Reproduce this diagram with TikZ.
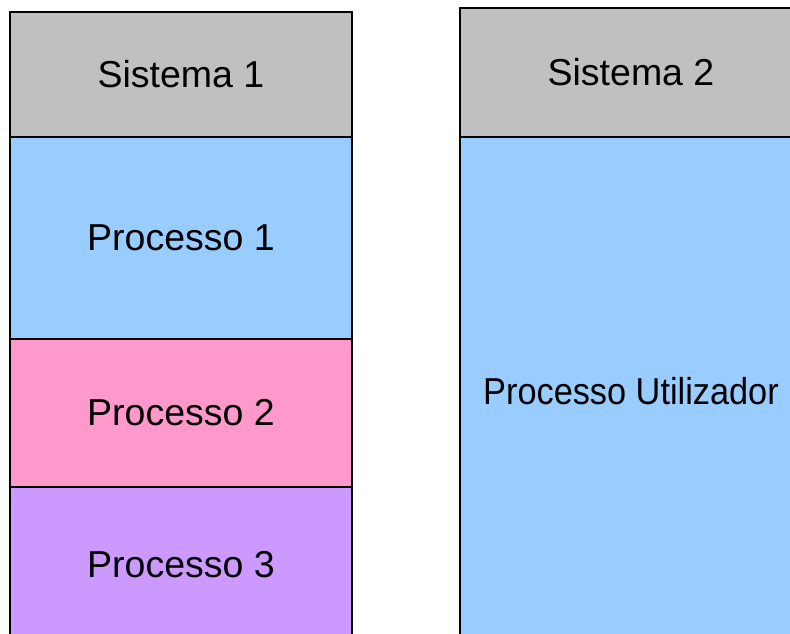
\documentclass[tikz,border=0pt]{standalone}
\usepackage{fontspec}
\setmainfont{Liberation Sans}
\usetikzlibrary{positioning}

\definecolor{sysgrey}{HTML}{C0C0C0}
\definecolor{procblue}{HTML}{99CCFF}
\definecolor{procpink}{HTML}{FF99CC}
\definecolor{procviolet}{HTML}{CC99FF}

\begin{document}
\begin{tikzpicture}[
  x=1pt, y=-1pt,
  blk/.style={draw, line width=1.2pt, outer sep=0pt, inner sep=0pt, minimum width=342pt, font=\fontsize{37.5}{45}\selectfont}
]
\useasboundingbox (0,0) rectangle (790,634);
\clip (0,0) rectangle (790,634);

% first system, stacked processes
\node[blk, fill=sysgrey, minimum height=125pt, anchor=north west] (sys1) at (10,12) {Sistema 1};
\node[blk, fill=procblue, minimum height=202pt, below=0pt of sys1] (p1) {Processo 1};
\node[blk, fill=procpink, minimum height=148pt, below=0pt of p1] (p2) {Processo 2};
\node[blk, fill=procviolet, minimum height=155pt, below=0pt of p2] (p3) {Processo 3};

% second system, one big process
\node[blk, fill=sysgrey, minimum height=129pt, anchor=north west] (sys2) at (460,8) {Sistema 2};
\node[blk, fill=procblue, minimum height=508pt, below=0pt of sys2] (util) {\scalebox{0.915}[1]{Processo Utilizador}};

\end{tikzpicture}
\end{document}
